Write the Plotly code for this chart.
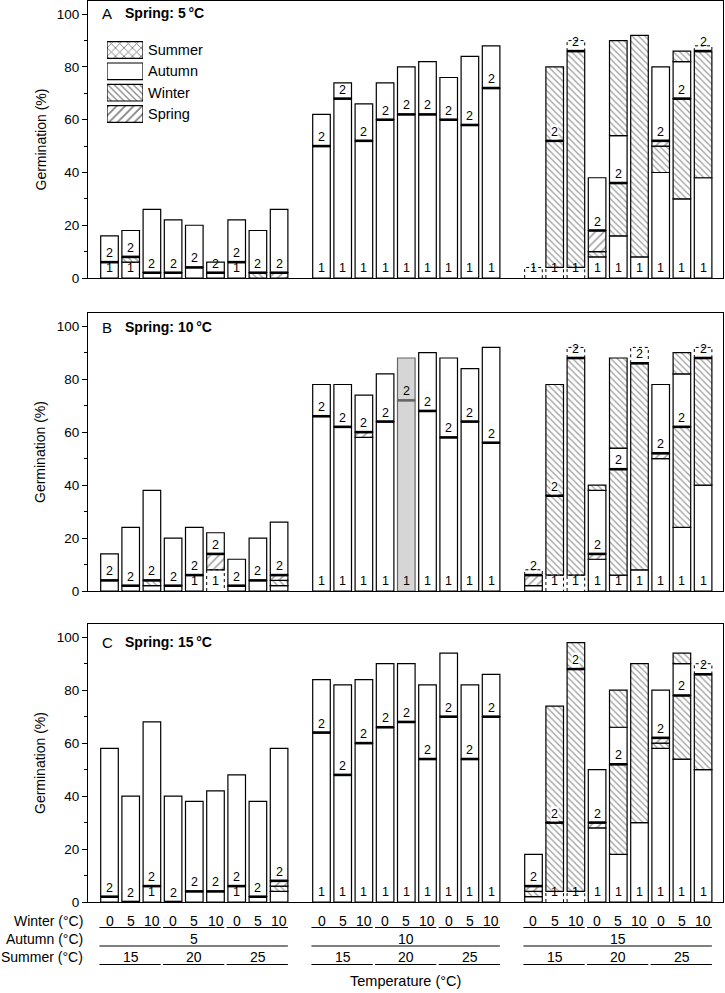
import plotly.graph_objects as go

# ---------------- data ----------------
PANEL_LETTERS = ["A", "B", "C"]
SPRING_TEMPS = ["5", "10", "15"]
WINTER_LABELS = ["0", "5", "10"]
SUMMER_LABELS = ["15", "20", "25"]
AUTUMN_LABELS = ["5", "10", "15"]
LEGEND_LABELS = ["Summer", "Autumn", "Winter", "Spring"]
Y_TICKS = [0, 20, 40, 60, 80, 100]

# segments stacked bottom -> top: gap1, aut1, win1, spr1 | year line | aut2, win2, gap2
A_gap1 = [0, 0, 0, 0, 0, 0, 0, 0, 0,  0, 0, 0, 0, 0, 0, 0, 0, 0,  4, 4, 4, 0, 0, 0, 0, 0, 0]
A_aut1 = [6, 6, 2, 2, 4, 2, 6, 0, 0,  50, 68, 52, 60, 62, 62, 60, 58, 72,  0, 0, 0, 8, 16, 8, 40, 30, 38]
A_win1 = [0, 2, 0, 0, 0, 0, 0, 2, 0,  0, 0, 0, 0, 0, 0, 0, 0, 0,  0, 48, 82, 2, 20, 84, 10, 38, 48]
A_spr1 = [0, 0, 0, 0, 0, 0, 0, 0, 2,  0, 0, 0, 0, 0, 0, 0, 0, 0,  0, 0, 0, 8, 0, 0, 2, 0, 0]
A_aut2 = [10, 10, 24, 20, 16, 4, 16, 16, 24,  12, 6, 14, 14, 18, 20, 16, 26, 16,  0, 0, 0, 20, 18, 0, 28, 14, 0]
A_win2 = [0, 0, 0, 0, 0, 0, 0, 0, 0,  0, 0, 0, 0, 0, 0, 0, 0, 0,  0, 28, 0, 0, 36, 0, 0, 4, 0]
A_gap2 = [0, 0, 0, 0, 0, 0, 0, 0, 0,  0, 0, 0, 0, 0, 0, 0, 0, 0,  0, 0, 4, 0, 0, 0, 0, 0, 2]

B_gap1 = [0, 0, 0, 0, 0, 8, 0, 0, 0,  0, 0, 0, 0, 0, 0, 0, 0, 0,  0, 6, 6, 0, 0, 0, 0, 0, 0]
B_aut1 = [4, 2, 2, 2, 6, 0, 2, 4, 2,  66, 62, 58, 64, 72, 68, 58, 64, 56,  2, 0, 0, 12, 6, 8, 50, 24, 40]
B_win1 = [0, 0, 2, 0, 0, 0, 0, 0, 2,  0, 0, 0, 0, 0, 0, 0, 0, 0,  0, 30, 82, 0, 40, 78, 0, 38, 48]
B_spr1 = [0, 0, 0, 0, 0, 6, 0, 0, 2,  0, 0, 2, 0, 0, 0, 0, 0, 0,  4, 0, 0, 2, 0, 0, 2, 0, 0]
B_aut2 = [10, 22, 34, 18, 18, 8, 10, 16, 20,  12, 16, 14, 18, 16, 22, 30, 20, 36,  0, 0, 0, 24, 8, 0, 26, 20, 0]
B_win2 = [0, 0, 0, 0, 0, 0, 0, 0, 0,  0, 0, 0, 0, 0, 0, 0, 0, 0,  0, 42, 0, 2, 34, 0, 0, 8, 0]
B_gap2 = [0, 0, 0, 0, 0, 0, 0, 0, 0,  0, 0, 0, 0, 0, 0, 0, 0, 0,  2, 0, 4, 0, 0, 6, 0, 0, 4]

C_gap1 = [0, 0, 0, 0, 0, 0, 0, 0, 0,  0, 0, 0, 0, 0, 0, 0, 0, 0,  0, 4, 4, 0, 0, 0, 0, 0, 0]
C_aut1 = [2, 0, 6, 0, 4, 4, 6, 2, 4,  64, 48, 60, 66, 68, 54, 70, 54, 70,  2, 0, 0, 28, 18, 30, 58, 54, 50]
C_win1 = [0, 0, 0, 0, 0, 0, 0, 0, 2,  0, 0, 0, 0, 0, 0, 0, 0, 0,  2, 26, 84, 0, 34, 60, 2, 24, 36]
C_spr1 = [0, 0, 0, 0, 0, 0, 0, 0, 2,  0, 0, 0, 0, 0, 0, 0, 0, 0,  2, 0, 0, 2, 0, 0, 2, 0, 0]
C_aut2 = [56, 40, 62, 40, 34, 38, 42, 36, 50,  20, 34, 24, 24, 22, 28, 24, 28, 16,  12, 0, 0, 20, 14, 0, 18, 12, 0]
C_win2 = [0, 0, 0, 0, 0, 0, 0, 0, 0,  0, 0, 0, 0, 0, 0, 0, 0, 0,  0, 44, 10, 0, 14, 0, 0, 4, 0]
C_gap2 = [0, 0, 0, 0, 0, 0, 0, 0, 0,  0, 0, 0, 0, 0, 0, 0, 0, 0,  0, 0, 0, 0, 0, 0, 0, 0, 4]

HIGHLIGHT = ("B", 13)  # shaded bar

# ---------------- style / layout ----------------
FONT = "Liberation Sans, Arial, Helvetica, sans-serif"
W, H = 725, 993
ML, MR, MT, MB = 88, 2, 1, 91
PW, PH = W - ML - MR, H - MT - MB
BAR_W = 0.83
X_RANGE = [-1.014, 28.939]
Y_RANGE = [0, 105]
GRAY, GRAY_LINE = "#d6d6d6", "#666666"
PAT_SIZE = {"win1": 4.5, "win2": 4.5, "spr1": 6}
PAT_SOLID = {"win1": 0.3, "win2": 0.3, "spr1": 0.26}
LAB_FS = 12.5
AX_FS = 14


def fy(py):
    return (H - MB - py) / PH


def fx(px):
    return (px - ML) / PW


N = 27
POS = [10 * (i // 9) + (i % 9) for i in range(N)]

PANELS = [
    ("A", dict(gap1=A_gap1, aut1=A_aut1, win1=A_win1, spr1=A_spr1, aut2=A_aut2, win2=A_win2, gap2=A_gap2)),
    ("B", dict(gap1=B_gap1, aut1=B_aut1, win1=B_win1, spr1=B_spr1, aut2=B_aut2, win2=B_win2, gap2=B_gap2)),
    ("C", dict(gap1=C_gap1, aut1=C_aut1, win1=C_win1, spr1=C_spr1, aut2=C_aut2, win2=C_win2, gap2=C_gap2)),
]
DOMAINS = [[fy(278), fy(1)], [fy(591), fy(313)], [fy(902), fy(624)]]
LETTER_Y = [13.3, 327, 642]
PANEL_TOP = [1, 313, 624]
PANEL_BOT = [278, 591, 902]

ORDER = ["gap1", "aut1", "win1", "spr1", "aut2", "win2", "gap2"]
PATTERN = {"gap1": "", "aut1": "", "win1": "\\", "spr1": "/", "aut2": "", "win2": "\\", "gap2": ""}

fig = go.Figure()
annotations = []
shapes = []

for k, (letter, segs) in enumerate(PANELS):
    xa = "x" if k == 0 else f"x{k + 1}"
    ya = "y" if k == 0 else f"y{k + 1}"
    cum = [0.0] * N
    line_lvl = [0.0] * N
    gap_boxes = []
    for key in ORDER:
        vals = segs[key]
        xs, ys, bs, cols, lcols = [], [], [], [], []
        for i, v in enumerate(vals):
            if v > 0:
                hl = (letter, i) == HIGHLIGHT
                xs.append(POS[i])
                ys.append(v)
                bs.append(cum[i])
                cols.append(GRAY if hl else "white")
                lcols.append(GRAY_LINE if hl else "black")
                if key.startswith("gap"):
                    gap_boxes.append((POS[i], cum[i], cum[i] + v))
            cum[i] += v
        if key == "spr1":
            line_lvl = cum[:]
        if xs:
            is_gap = key.startswith("gap")
            fig.add_trace(go.Bar(
                x=xs, y=ys, base=bs, width=BAR_W, xaxis=xa, yaxis=ya,
                marker=dict(color=cols,
                            line=dict(color=lcols, width=0 if is_gap else 1.2),
                            pattern=dict(shape=PATTERN[key], fgcolor="black",
                                         size=PAT_SIZE.get(key, 6), solidity=PAT_SOLID.get(key, 0.3),
                                         fillmode="overlay")),
                showlegend=False, hoverinfo="skip"))

    # year boundary lines
    for hl_flag in (False, True):
        lx, ly = [], []
        for i in range(N):
            y2 = segs["aut2"][i] + segs["win2"][i] + segs["gap2"][i]
            if y2 > 0 and (((letter, i) == HIGHLIGHT) == hl_flag):
                lx += [POS[i] - BAR_W / 2, POS[i] + BAR_W / 2, None]
                ly += [line_lvl[i], line_lvl[i], None]
        if lx:
            fig.add_trace(go.Scatter(x=lx, y=ly, mode="lines", xaxis=xa, yaxis=ya,
                                     line=dict(color=GRAY_LINE if hl_flag else "black", width=2.6),
                                     showlegend=False, hoverinfo="skip"))
    # dashed boxes
    dx, dy = [], []
    for (p, b, t) in gap_boxes:
        dx += [p - BAR_W / 2, p - BAR_W / 2, p + BAR_W / 2, p + BAR_W / 2, None]
        dy += [b, t, t, b, None]
    if dx:
        fig.add_trace(go.Scatter(x=dx, y=dy, mode="lines", xaxis=xa, yaxis=ya,
                                 line=dict(color="black", width=1, dash="dot"),
                                 showlegend=False, hoverinfo="skip"))

    # labels 1 / 2
    for i in range(N):
        if segs["gap1"][i] > 0 or segs["aut1"][i] >= 5:
            annotations.append(dict(x=POS[i], y=0, xref=xa, yref=ya, text="1", showarrow=False,
                                    yanchor="bottom", yshift=1, font=dict(size=LAB_FS, color="black")))
        y2 = segs["aut2"][i] + segs["win2"][i] + segs["gap2"][i]
        if y2 > 0:
            bg = "white" if (segs["aut2"][i] == 0 and segs["win2"][i] > 0) else "rgba(0,0,0,0)"
            annotations.append(dict(x=POS[i], y=line_lvl[i], xref=xa, yref=ya, text="2", showarrow=False,
                                    yanchor="bottom", yshift=1, bgcolor=bg, borderpad=0,
                                    font=dict(size=LAB_FS, color="black")))

    # panel titles
    ty = (PANEL_BOT[k] - LETTER_Y[k]) / (PANEL_BOT[k] - PANEL_TOP[k])
    annotations.append(dict(x=fx(100), y=ty, xref="paper", yref=f"{ya} domain", text=letter,
                            showarrow=False, xanchor="left", yanchor="middle", font=dict(size=15)))
    annotations.append(dict(x=fx(123), y=ty, xref="paper", yref=f"{ya} domain",
                            text=f"<b>Spring: {SPRING_TEMPS[k]}\u2009°C</b>",
                            showarrow=False, xanchor="left", yanchor="middle", font=dict(size=14)))
    annotations.append(dict(x=fx(40), y=0.5, xref="paper", yref=f"{ya} domain", text="Germination (%)",
                            textangle=-90, showarrow=False, xanchor="center", yanchor="middle",
                            font=dict(size=AX_FS)))

    axis_common = dict(showline=True, linecolor="black", linewidth=1, mirror=True,
                       showgrid=False, zeroline=False)
    fig.layout[("xaxis" if k == 0 else f"xaxis{k + 1}")] = dict(
        domain=[0, 1], range=X_RANGE, anchor=ya, showticklabels=False, ticks="", **axis_common)
    fig.layout[("yaxis" if k == 0 else f"yaxis{k + 1}")] = dict(
        domain=DOMAINS[k], range=Y_RANGE, anchor=xa, tickvals=Y_TICKS, ticks="outside", ticklen=5,
        tickcolor="black", tickfont=dict(size=13.5),
        minor=dict(tickvals=[10, 30, 50, 70, 90], ticks="outside", ticklen=3, tickcolor="black"),
        **axis_common)

# ---------------- bottom hierarchical labels ----------------
ROW_Y = {"winter": 921, "winter_line": 927.5, "autumn": 939, "autumn_line": 946,
         "summer": 957, "summer_line": 964.5, "title": 981}
for i in range(N):
    annotations.append(dict(x=POS[i], y=fy(ROW_Y["winter"]), xref="x3", yref="paper",
                            text=WINTER_LABELS[i % 3], showarrow=False, yanchor="middle",
                            font=dict(size=AX_FS)))
for t in range(9):
    g, s = t // 3, t % 3
    p0 = POS[9 * g + 3 * s]
    p1 = POS[9 * g + 3 * s + 2]
    x0, x1 = p0 - BAR_W / 2 - 0.06, p1 + BAR_W / 2
    for key in ("winter_line", "summer_line"):
        shapes.append(dict(type="line", xref="x3", yref="paper", x0=x0, x1=x1,
                           y0=fy(ROW_Y[key]), y1=fy(ROW_Y[key]), line=dict(color="black", width=1.2)))
    annotations.append(dict(x=(p0 + p1) / 2, y=fy(ROW_Y["summer"]), xref="x3", yref="paper",
                            text=SUMMER_LABELS[s], showarrow=False, yanchor="middle", font=dict(size=AX_FS)))
for g in range(3):
    p0, p1 = POS[9 * g], POS[9 * g + 8]
    shapes.append(dict(type="line", xref="x3", yref="paper", x0=p0 - BAR_W / 2 - 0.06, x1=p1 + BAR_W / 2,
                       y0=fy(ROW_Y["autumn_line"]), y1=fy(ROW_Y["autumn_line"]),
                       line=dict(color="black", width=1.2)))
    annotations.append(dict(x=(p0 + p1) / 2, y=fy(ROW_Y["autumn"]), xref="x3", yref="paper",
                            text=AUTUMN_LABELS[g], showarrow=False, yanchor="middle", font=dict(size=AX_FS)))
for name, key in (("Winter (°C)", "winter"), ("Autumn (°C)", "autumn"), ("Summer (°C)", "summer")):
    annotations.append(dict(x=fx(85), y=fy(ROW_Y[key]), xref="paper", yref="paper", text=name,
                            showarrow=False, xanchor="right", yanchor="middle", font=dict(size=AX_FS)))
annotations.append(dict(x=0.5, y=fy(ROW_Y["title"]), xref="paper", yref="paper", text="Temperature (°C)",
                        showarrow=False, xanchor="center", yanchor="middle", font=dict(size=14.5)))

# ---------------- legend (drawn as a mini bar chart) ----------------
LEG_PAT = {"Summer": "x", "Autumn": "", "Winter": "\\", "Spring": "/"}
LEG_SIZE = {"Summer": 6, "Autumn": 6, "Winter": 4.5, "Spring": 6}
for lab in LEGEND_LABELS:
    fig.add_trace(go.Bar(
        x=[1], y=[lab], base=[0], orientation="h", xaxis="x4", yaxis="y4",
        marker=dict(color="white", line=dict(color="black", width=1.2),
                    pattern=dict(shape=LEG_PAT[lab], fgcolor="black", size=LEG_SIZE[lab],
                                 solidity=0.28, fillmode="overlay")),
        showlegend=False, hoverinfo="skip"))
fig.layout["xaxis4"] = dict(domain=[fx(107), fx(143)], range=[0, 1], anchor="y4", visible=False)
fig.layout["yaxis4"] = dict(domain=[fy(124.65), fy(39.35)], anchor="x4", type="category",
                            categoryorder="array", categoryarray=LEGEND_LABELS[::-1],
                            side="right", showline=False, ticks="", showgrid=False, zeroline=False,
                            tickfont=dict(size=14.5), ticklabelstandoff=4)

fig.update_layout(
    width=W, height=H, margin=dict(l=ML, r=MR, t=MT, b=MB),
    barmode="overlay", bargap=0.216,
    paper_bgcolor="white", plot_bgcolor="rgba(0,0,0,0)",
    font=dict(family=FONT, size=13, color="black"),
    annotations=annotations, shapes=shapes, showlegend=False,
)

fig.write_html("out.html", config={"displayModeBar": False},
               post_script="document.body.style.margin='0';document.body.style.overflow='hidden';")
